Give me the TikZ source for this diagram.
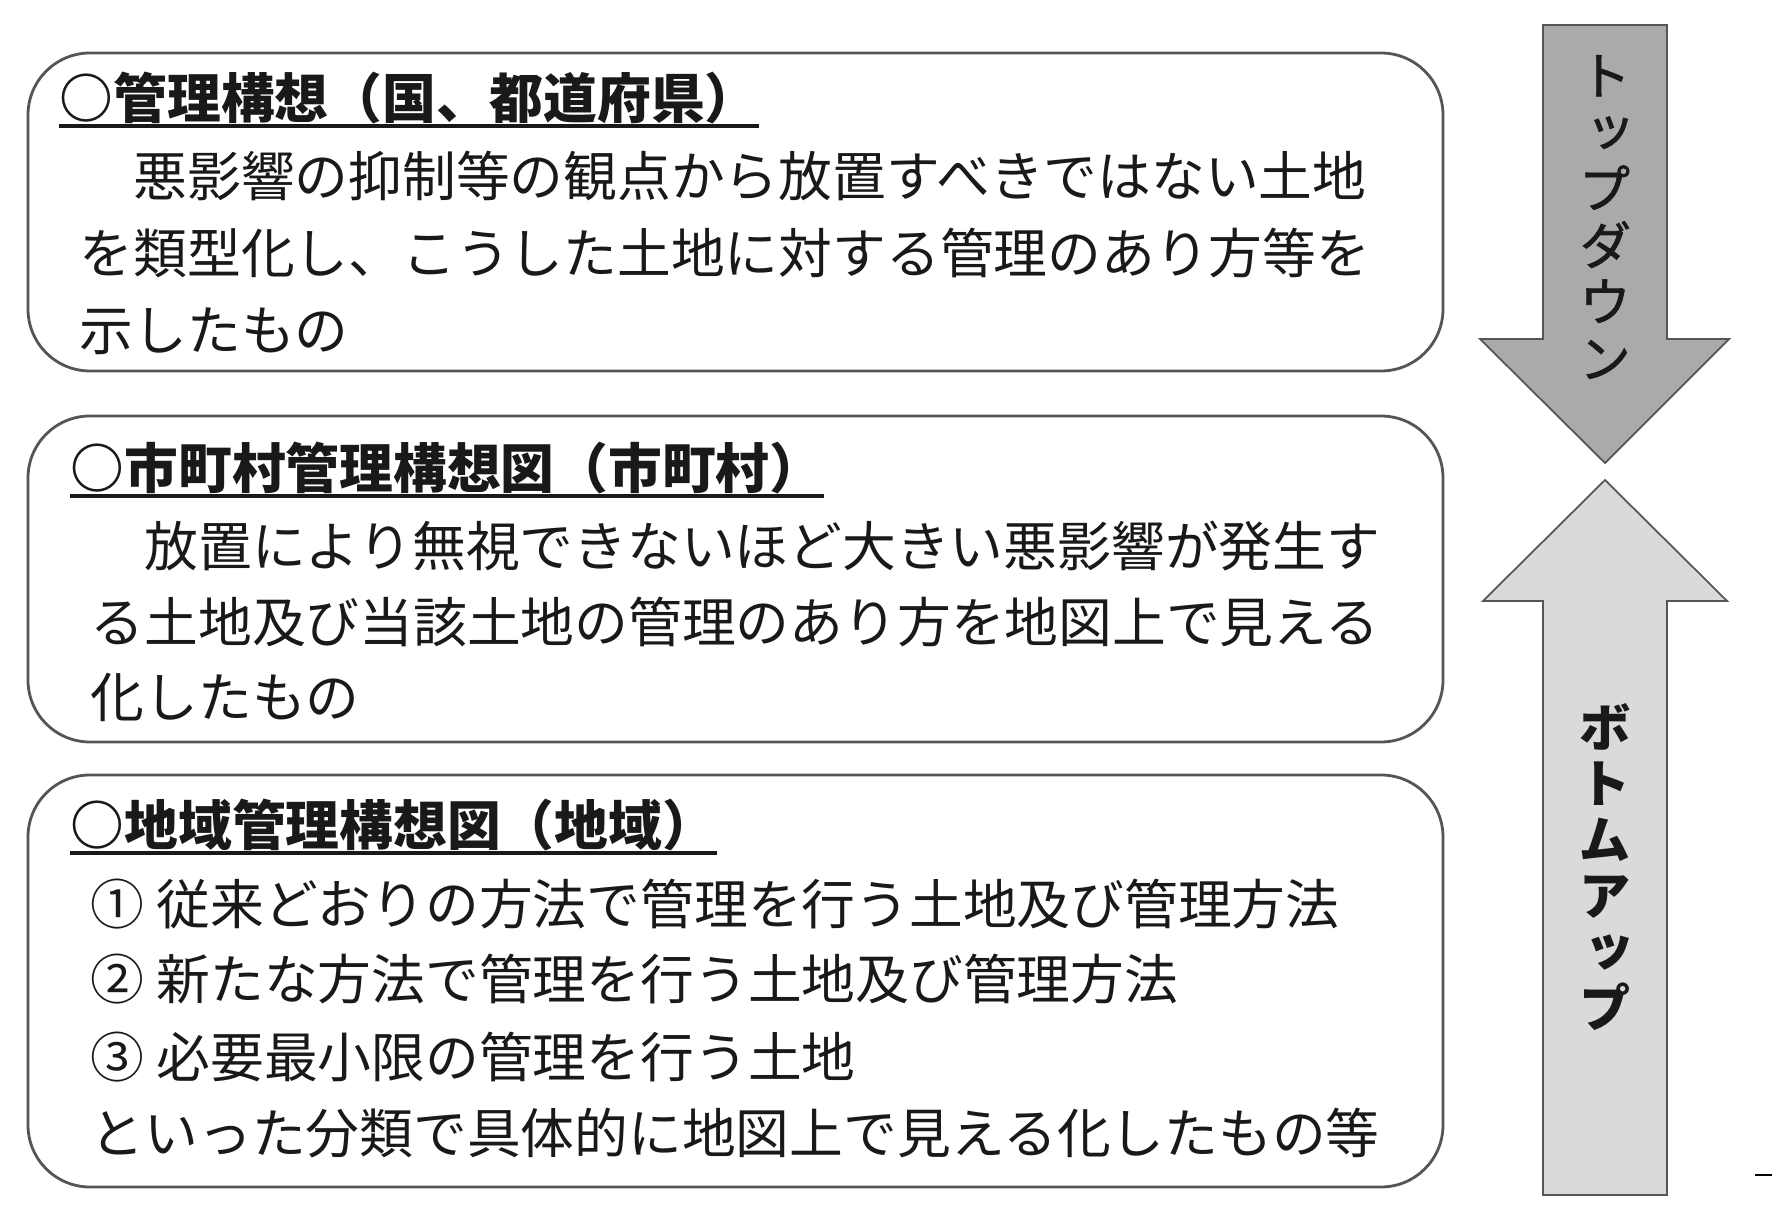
\documentclass[tikz,border=0pt]{standalone}
\usepackage{fontspec}
\setmainfont{Noto Sans CJK JP}
\newfontfamily\vertjp{Noto Sans CJK JP}[RawFeature=+vert]
\newfontfamily\vertjpmed{Noto Sans CJK JP}[RawFeature=+vert, FakeBold=1.2]
\usetikzlibrary{calc}

\definecolor{framegray}{RGB}{85,85,85}
\definecolor{downgray}{RGB}{170,170,170}
\definecolor{upgray}{RGB}{218,218,218}
\definecolor{inkgray}{RGB}{25,25,25}

\tikzset{
  panel/.style={draw=framegray, line width=0.8pt, rounded corners=0.62cm},
  boxhead/.style={anchor=base west, inner sep=0pt, text=inkgray,
    font=\fontsize{15.3}{18}\selectfont\bfseries},
  boxtext/.style={anchor=base west, inner sep=0pt, text=inkgray,
    font=\fontsize{15.3}{18}\selectfont},
  uline/.style={draw=inkgray, line width=0.9pt},
  blockarrow/.style={draw=framegray, line width=0.5pt},
  vtext/.style={align=center, inner sep=0pt, text=inkgray,
    font=\vertjpmed\fontsize{15}{16.1}\selectfont}
}

\begin{document}
\begin{tikzpicture}
        \useasboundingbox[fill=white] (0,0) rectangle (17.72,-12.13);

        % Panel 1: national / prefectural
        \draw[panel] (0.28,-0.53) rectangle (14.43,-3.71);
        \node[boxhead] (ttl1) at (0.59,-1.19) {○管理構想（国、都道府県）};
        \draw[uline] ($(ttl1.base west)+(0,-0.07)$) -- ($(ttl1.base east)+(0,-0.07)$);
        \node[boxtext] (txt11) at (0.79,-1.97) {　悪影響の抑制等の観点から放置すべきではない土地};
        \node[boxtext] (txt12) at (0.79,-2.74) {を類型化し、こうした土地に対する管理のあり方等を};
        \node[boxtext] (txt13) at (0.79,-3.51) {示したもの};

        % Panel 2: municipality
        \draw[panel] (0.28,-4.16) rectangle (14.43,-7.42);
        \node[boxhead] (ttl2) at (0.70,-4.89) {○市町村管理構想図（市町村）};
        \draw[uline] ($(ttl2.base west)+(0,-0.07)$) -- ($(ttl2.base east)+(0,-0.07)$);
        \node[boxtext] (txt21) at (0.90,-5.67) {　放置により無視できないほど大きい悪影響が発生す};
        \node[boxtext] (txt22) at (0.90,-6.43) {る土地及び当該土地の管理のあり方を地図上で見える};
        \node[boxtext] (txt23) at (0.90,-7.18) {化したもの};

        % Panel 3: local area
        \draw[panel] (0.28,-7.75) rectangle (14.43,-11.87);
        \node[boxhead] (ttl3) at (0.70,-8.46) {○地域管理構想図（地域）};
        \draw[uline] ($(ttl3.base west)+(0,-0.07)$) -- ($(ttl3.base east)+(0,-0.07)$);
        \node[boxtext] (txt31) at (0.90,-9.24) {① 従来どおりの方法で管理を行う土地及び管理方法};
        \node[boxtext] (txt32) at (0.90,-9.99) {② 新たな方法で管理を行う土地及び管理方法};
        \node[boxtext] (txt33) at (0.90,-10.77) {③ 必要最小限の管理を行う土地};
        \node[boxtext] (txt34) at (0.90,-11.53) {といった分類で具体的に地図上で見える化したもの等};

        % Top-down arrow
        \draw[blockarrow, fill=downgray] (15.43,-0.25) -- (16.67,-0.25) -- (16.67,-3.39)
            -- (17.29,-3.39) -- (16.05,-4.63) -- (14.80,-3.39) -- (15.43,-3.39) -- cycle;
        \node[vtext] (down) at (16.05,-2.17) {ト\\ッ\\プ\\ダ\\ウ\\ン};

        % Bottom-up arrow
        \draw[blockarrow, fill=upgray] (15.43,-11.95) -- (16.67,-11.95) -- (16.67,-6.01)
            -- (17.27,-6.01) -- (16.05,-4.80) -- (14.83,-6.01) -- (15.43,-6.01) -- cycle;
        \node[vtext, font=\vertjp\fontsize{15}{15.9}\selectfont\bfseries] (up) at (16.05,-8.67) {ボ\\ト\\ム\\ア\\ッ\\プ};

        % stray mark at the lower right
        \draw[line width=0.6pt] (17.55,-11.75) -- (17.72,-11.75);
\end{tikzpicture}
\end{document}
